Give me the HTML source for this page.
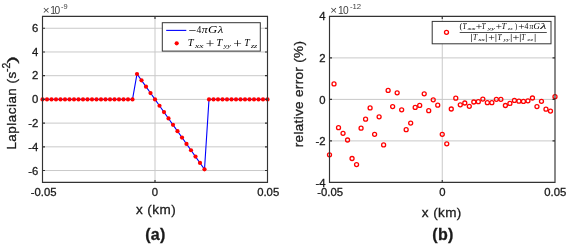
<!DOCTYPE html>
<html><head><meta charset="utf-8"><style>
html,body{margin:0;padding:0;background:#fff;}
body{width:568px;height:244px;overflow:hidden;position:relative;font-family:"Liberation Sans",sans-serif;}
svg{position:absolute;left:0;top:0;will-change:transform;}
g[font-family="Liberation Sans"] text,text[font-family="Liberation Sans"]{fill:#1a1a1a;stroke:#1a1a1a;stroke-width:0.3px;}
.nb{stroke:none!important;fill:#404040!important;}
</style></head><body>
<svg width="568" height="244" viewBox="0 0 568 244">
<path d="M42.5 170.54H267.5M42.5 146.83H267.5M42.5 123.11H267.5M42.5 99.4H267.5M42.5 75.69H267.5M42.5 51.97H267.5M42.5 28.26H267.5M155 16.4V182.4" stroke="#c9c9c9" stroke-width="1" fill="none"/>
<path d="M329.5 140.9H555M329.5 99.4H555M329.5 57.9H555M442.25 16.4V182.4" stroke="#c9c9c9" stroke-width="1" fill="none"/>
<polyline points="42.5,99.4 47,99.4 51.5,99.4 56,99.4 60.5,99.4 65,99.4 69.5,99.4 74,99.4 78.5,99.4 83,99.4 87.5,99.4 92,99.4 96.5,99.4 101,99.4 105.5,99.4 110,99.4 114.5,99.4 119,99.4 123.5,99.4 128,99.4 132.5,99.4 137,73.98 141.5,80.33 146,86.69 150.5,93.04 155,99.4 159.5,105.76 164,112.11 168.5,118.47 173,124.82 177.5,131.18 182,137.53 186.5,143.89 191,150.24 195.5,156.6 200,162.95 204.5,169.31 209,99.4 213.5,99.4 218,99.4 222.5,99.4 227,99.4 231.5,99.4 236,99.4 240.5,99.4 245,99.4 249.5,99.4 254,99.4 258.5,99.4 263,99.4 267.5,99.4" stroke="#0000ff" stroke-width="1.1" fill="none"/>
<g fill="#ff0000"><circle cx="42.5" cy="99.4" r="2.1"/><circle cx="47" cy="99.4" r="2.1"/><circle cx="51.5" cy="99.4" r="2.1"/><circle cx="56" cy="99.4" r="2.1"/><circle cx="60.5" cy="99.4" r="2.1"/><circle cx="65" cy="99.4" r="2.1"/><circle cx="69.5" cy="99.4" r="2.1"/><circle cx="74" cy="99.4" r="2.1"/><circle cx="78.5" cy="99.4" r="2.1"/><circle cx="83" cy="99.4" r="2.1"/><circle cx="87.5" cy="99.4" r="2.1"/><circle cx="92" cy="99.4" r="2.1"/><circle cx="96.5" cy="99.4" r="2.1"/><circle cx="101" cy="99.4" r="2.1"/><circle cx="105.5" cy="99.4" r="2.1"/><circle cx="110" cy="99.4" r="2.1"/><circle cx="114.5" cy="99.4" r="2.1"/><circle cx="119" cy="99.4" r="2.1"/><circle cx="123.5" cy="99.4" r="2.1"/><circle cx="128" cy="99.4" r="2.1"/><circle cx="132.5" cy="99.4" r="2.1"/><circle cx="137" cy="73.98" r="2.1"/><circle cx="141.5" cy="80.33" r="2.1"/><circle cx="146" cy="86.69" r="2.1"/><circle cx="150.5" cy="93.04" r="2.1"/><circle cx="155" cy="99.4" r="2.1"/><circle cx="159.5" cy="105.76" r="2.1"/><circle cx="164" cy="112.11" r="2.1"/><circle cx="168.5" cy="118.47" r="2.1"/><circle cx="173" cy="124.82" r="2.1"/><circle cx="177.5" cy="131.18" r="2.1"/><circle cx="182" cy="137.53" r="2.1"/><circle cx="186.5" cy="143.89" r="2.1"/><circle cx="191" cy="150.24" r="2.1"/><circle cx="195.5" cy="156.6" r="2.1"/><circle cx="200" cy="162.95" r="2.1"/><circle cx="204.5" cy="169.31" r="2.1"/><circle cx="209" cy="99.4" r="2.1"/><circle cx="213.5" cy="99.4" r="2.1"/><circle cx="218" cy="99.4" r="2.1"/><circle cx="222.5" cy="99.4" r="2.1"/><circle cx="227" cy="99.4" r="2.1"/><circle cx="231.5" cy="99.4" r="2.1"/><circle cx="236" cy="99.4" r="2.1"/><circle cx="240.5" cy="99.4" r="2.1"/><circle cx="245" cy="99.4" r="2.1"/><circle cx="249.5" cy="99.4" r="2.1"/><circle cx="254" cy="99.4" r="2.1"/><circle cx="258.5" cy="99.4" r="2.1"/><circle cx="263" cy="99.4" r="2.1"/><circle cx="267.5" cy="99.4" r="2.1"/></g>
<g fill="none" stroke="#ff0000" stroke-width="1.3"><circle cx="329.5" cy="154.8" r="2"/><circle cx="334.01" cy="83.9" r="2"/><circle cx="338.52" cy="127.7" r="2"/><circle cx="343.03" cy="133.3" r="2"/><circle cx="347.54" cy="140" r="2"/><circle cx="352.05" cy="158.5" r="2"/><circle cx="356.56" cy="164.6" r="2"/><circle cx="361.07" cy="128.2" r="2"/><circle cx="365.58" cy="119.2" r="2"/><circle cx="370.09" cy="107.9" r="2"/><circle cx="374.6" cy="134.3" r="2"/><circle cx="379.11" cy="116.8" r="2"/><circle cx="383.62" cy="144.9" r="2"/><circle cx="388.13" cy="90.4" r="2"/><circle cx="392.64" cy="106.6" r="2"/><circle cx="397.15" cy="92.8" r="2"/><circle cx="401.66" cy="109.8" r="2"/><circle cx="406.17" cy="129.7" r="2"/><circle cx="410.68" cy="123.1" r="2"/><circle cx="415.19" cy="107.4" r="2"/><circle cx="419.7" cy="105.4" r="2"/><circle cx="424.21" cy="93.8" r="2"/><circle cx="428.72" cy="110.7" r="2"/><circle cx="433.23" cy="99.8" r="2"/><circle cx="437.74" cy="105.2" r="2"/><circle cx="442.25" cy="134.3" r="2"/><circle cx="446.76" cy="143.8" r="2"/><circle cx="451.27" cy="109" r="2"/><circle cx="455.78" cy="98.2" r="2"/><circle cx="460.29" cy="104.8" r="2"/><circle cx="464.8" cy="103" r="2"/><circle cx="469.31" cy="106.3" r="2"/><circle cx="473.82" cy="102" r="2"/><circle cx="478.33" cy="101.7" r="2"/><circle cx="482.84" cy="99.1" r="2"/><circle cx="487.35" cy="102.7" r="2"/><circle cx="491.86" cy="102.7" r="2"/><circle cx="496.37" cy="99.3" r="2"/><circle cx="500.88" cy="99.3" r="2"/><circle cx="505.39" cy="105.5" r="2"/><circle cx="509.9" cy="103.4" r="2"/><circle cx="514.41" cy="100.4" r="2"/><circle cx="518.92" cy="101.2" r="2"/><circle cx="523.43" cy="101.4" r="2"/><circle cx="527.94" cy="100.8" r="2"/><circle cx="532.45" cy="98" r="2"/><circle cx="536.96" cy="106.6" r="2"/><circle cx="541.47" cy="101.3" r="2"/><circle cx="545.98" cy="109.2" r="2"/><circle cx="550.49" cy="111.1" r="2"/><circle cx="555" cy="96.7" r="2"/></g>
<path d="M42.5 16.4H267.5V182.4H42.5ZM42.5 170.54h2.5M267.5 170.54h-2.5M42.5 146.83h2.5M267.5 146.83h-2.5M42.5 123.11h2.5M267.5 123.11h-2.5M42.5 99.4h2.5M267.5 99.4h-2.5M42.5 75.69h2.5M267.5 75.69h-2.5M42.5 51.97h2.5M267.5 51.97h-2.5M42.5 28.26h2.5M267.5 28.26h-2.5M42.5 182.4v-2.5M42.5 16.4v2.5M155 182.4v-2.5M155 16.4v2.5M267.5 182.4v-2.5M267.5 16.4v2.5" stroke="#333333" stroke-width="1.15" fill="none"/>
<path d="M329.5 16.4H555V182.4H329.5ZM329.5 182.4h2.5M555 182.4h-2.5M329.5 140.9h2.5M555 140.9h-2.5M329.5 99.4h2.5M555 99.4h-2.5M329.5 57.9h2.5M555 57.9h-2.5M329.5 16.4h2.5M555 16.4h-2.5M329.5 182.4v-2.5M329.5 16.4v2.5M442.25 182.4v-2.5M442.25 16.4v2.5M555 182.4v-2.5M555 16.4v2.5" stroke="#333333" stroke-width="1.15" fill="none"/>
<g font-family="Liberation Sans" fill="#262626" font-size="11.3" text-anchor="end">
<text x="38.3" y="32">6</text><text x="38.3" y="55.7">4</text><text x="38.3" y="79.4">2</text>
<text x="38.3" y="103.4">0</text><text x="38.3" y="127">-2</text><text x="38.3" y="150.8">-4</text>
<text x="38.3" y="174.5">-6</text>
<text x="325.6" y="20.3">4</text><text x="325.6" y="61.8">2</text><text x="325.6" y="103.6">0</text>
<text x="325.6" y="145">-2</text><text x="325.6" y="186.5">-4</text>
</g>
<g font-family="Liberation Sans" fill="#262626" font-size="11.3" text-anchor="middle">
<text x="43.6" y="195.8">-0.05</text><text x="155" y="195.8">0</text><text x="268.2" y="195.8">0.05</text>
<text x="330.1" y="195.5">-0.05</text><text x="442.5" y="195.5">0</text><text x="555.3" y="195.5">0.05</text>
</g>
<text font-family="Liberation Sans" font-size="13.5" fill="#333333" transform="translate(135.95,214.3)" textLength="39.79">x (km)</text>
<text font-family="Liberation Sans" font-size="13.5" fill="#333333" transform="translate(421.85,216.6)" textLength="39.49">x (km)</text>
<text font-family="Liberation Sans" font-weight="bold" font-size="16" fill="#333333" transform="translate(145.3,240)" textLength="19.99">(a)</text>
<text font-family="Liberation Sans" font-weight="bold" font-size="16" fill="#333333" transform="translate(432.3,240)" textLength="21.09">(b)</text>
<text font-family="Liberation Sans" font-size="13.5" fill="#333333" transform="translate(16.2,149.61) rotate(-90)" textLength="77.9">Laplacian (s</text>
<text font-family="Liberation Sans" font-size="10" fill="#333333" transform="translate(9.5,71.96) rotate(-90) scale(1.032,1)">-2</text>
<text font-family="Liberation Sans" font-size="13.5" fill="#333333" transform="translate(16.2,63.84) rotate(-90) scale(1.732,1)">)</text>
<text font-family="Liberation Sans" font-size="13.5" fill="#333333" transform="translate(303.3,147.2) rotate(-90)" textLength="106.13">relative error (%)</text>
<text font-family="Liberation Sans" class="nb" font-size="10.5" fill="#333333" transform="translate(42.79,14.4) scale(1.111,1)">×</text>
<text font-family="Liberation Sans" class="nb" font-size="10.2" fill="#333333" transform="translate(50.22,13.6)" textLength="9.98">10</text>
<text font-family="Liberation Sans" class="nb" font-size="7.4" fill="#333333" transform="translate(60.97,8.9) scale(1.000,1)">-9</text>
<text font-family="Liberation Sans" class="nb" font-size="10.5" fill="#333333" transform="translate(330.19,14.4) scale(1.111,1)">×</text>
<text font-family="Liberation Sans" class="nb" font-size="10.2" fill="#333333" transform="translate(337.92,13.8)" textLength="10.68">10</text>
<text font-family="Liberation Sans" class="nb" font-size="7.4" fill="#333333" transform="translate(349.95,8.9) scale(1.051,1)">-12</text>
<rect x="162.3" y="22.7" width="98" height="28.4" fill="#fff" stroke="#333333" stroke-width="1"/>
<line x1="166.2" y1="30.4" x2="186.3" y2="30.4" stroke="#0000ff" stroke-width="1.1"/>
<circle cx="176.7" cy="43.3" r="2.1" fill="#ff0000"/>
<text font-family="Liberation Serif" font-size="13" fill="#000" transform="translate(188.3,34.59) scale(1.075,1)">−</text>
<text font-family="Liberation Serif" font-size="10.5" fill="#000" transform="translate(196.41,33.3) scale(0.922,1)">4</text>
<text font-family="Liberation Serif" font-style="italic" font-size="11" fill="#000" transform="translate(201.64,33.3) scale(1.069,1)">π</text>
<text font-family="Liberation Serif" font-style="italic" font-size="11" fill="#000" transform="translate(207.99,33.3) scale(1.169,1)">G</text>
<text font-family="Liberation Serif" font-style="italic" font-size="11" fill="#000" transform="translate(217.81,33.3) scale(1.156,1)">λ</text>
<text font-family="Liberation Serif" font-style="italic" font-size="10.3" fill="#000" transform="translate(187.81,45.9) scale(1.024,1)">T</text>
<text font-family="Liberation Serif" font-style="italic" font-size="6.8" fill="#000" transform="translate(194.92,47.9) scale(1.400,1)">xx</text>
<text font-family="Liberation Serif" font-size="13" fill="#000" transform="translate(205.64,47.72) scale(1.174,1)">+</text>
<text font-family="Liberation Serif" font-style="italic" font-size="10.3" fill="#000" transform="translate(216.3,45.9) scale(1.042,1)">T</text>
<text font-family="Liberation Serif" font-style="italic" font-size="6.8" fill="#000" transform="translate(223.77,47.9) scale(1.180,1)">yy</text>
<text font-family="Liberation Serif" font-size="13" fill="#000" transform="translate(233.14,47.72) scale(1.174,1)">+</text>
<text font-family="Liberation Serif" font-style="italic" font-size="10.3" fill="#000" transform="translate(244.26,45.9) scale(0.954,1)">T</text>
<text font-family="Liberation Serif" font-style="italic" font-size="6.8" fill="#000" transform="translate(250.89,47.9) scale(1.193,1)">zz</text>
<rect x="432.2" y="21.4" width="118.8" height="22.4" fill="#fff" stroke="#333333" stroke-width="1"/>
<circle cx="446.5" cy="32.3" r="2" fill="none" stroke="#ff0000" stroke-width="1.3"/>
<line x1="459.7" y1="32.5" x2="546.8" y2="32.5" stroke="#000" stroke-width="0.7"/>
<text font-family="Liberation Serif" font-size="8.2" fill="#000" transform="translate(459.42,29.2) scale(1.045,1)">(</text>
<text font-family="Liberation Serif" font-style="italic" font-size="7.3" fill="#000" transform="translate(462.42,29) scale(0.997,1)">T</text>
<text font-family="Liberation Serif" font-style="italic" font-size="4.6" fill="#000" transform="translate(467.41,30.4) scale(1.973,1)">xx</text>
<text font-family="Liberation Serif" font-size="9.5" fill="#000" transform="translate(475.63,29.65) scale(1.199,1)">+</text>
<text font-family="Liberation Serif" font-style="italic" font-size="7.3" fill="#000" transform="translate(481.42,29) scale(0.997,1)">T</text>
<text font-family="Liberation Serif" font-style="italic" font-size="4.6" fill="#000" transform="translate(487.76,30.4) scale(1.723,1)">yy</text>
<text font-family="Liberation Serif" font-size="9.5" fill="#000" transform="translate(495.65,29.65) scale(1.154,1)">+</text>
<text font-family="Liberation Serif" font-style="italic" font-size="7.3" fill="#000" transform="translate(501.55,29) scale(1.146,1)">T</text>
<text font-family="Liberation Serif" font-style="italic" font-size="4.6" fill="#000" transform="translate(507.77,30.4) scale(1.372,1)">zz</text>
<text font-family="Liberation Serif" font-size="8.2" fill="#000" transform="translate(514.89,29.2) scale(0.807,1)">)</text>
<text font-family="Liberation Serif" font-size="9.5" fill="#000" transform="translate(518.33,29.65) scale(1.199,1)">+</text>
<text font-family="Liberation Serif" font-size="7.3" fill="#000" transform="translate(524.45,29) scale(1.061,1)">4</text>
<text font-family="Liberation Serif" font-style="italic" font-size="7.3" fill="#000" transform="translate(529.46,29) scale(1.057,1)">π</text>
<text font-family="Liberation Serif" font-style="italic" font-size="7.3" fill="#000" transform="translate(533.41,29) scale(1.210,1)">G</text>
<text font-family="Liberation Serif" font-style="italic" font-size="7.3" fill="#000" transform="translate(540.35,29) scale(1.963,1)">λ</text>
<text font-family="Liberation Serif" font-style="italic" font-size="7.3" fill="#000" transform="translate(472.91,39.9) scale(1.022,1)">T</text>
<text font-family="Liberation Serif" font-style="italic" font-size="4.6" fill="#000" transform="translate(478.19,41.2) scale(1.632,1)">xx</text>
<text font-family="Liberation Serif" font-size="9.5" fill="#000" transform="translate(488.32,41.15) scale(1.222,1)">+</text>
<text font-family="Liberation Serif" font-style="italic" font-size="7.3" fill="#000" transform="translate(497.61,39.9) scale(1.022,1)">T</text>
<text font-family="Liberation Serif" font-style="italic" font-size="4.6" fill="#000" transform="translate(503.38,41.2) scale(1.499,1)">yy</text>
<text font-family="Liberation Serif" font-size="9.5" fill="#000" transform="translate(512.39,41.15) scale(1.289,1)">+</text>
<text font-family="Liberation Serif" font-style="italic" font-size="7.3" fill="#000" transform="translate(521.34,39.9) scale(0.972,1)">T</text>
<text font-family="Liberation Serif" font-style="italic" font-size="4.6" fill="#000" transform="translate(527.19,41.2) scale(1.680,1)">zz</text>
<path d="M471.5 33.9V42.1M486.4 33.9V42.1M495.9 33.9V42.1M511.3 33.9V42.1M520.4 33.9V42.1M535.2 33.9V42.1" stroke="#000" stroke-width="0.6" fill="none"/>
</svg>
</body></html>
